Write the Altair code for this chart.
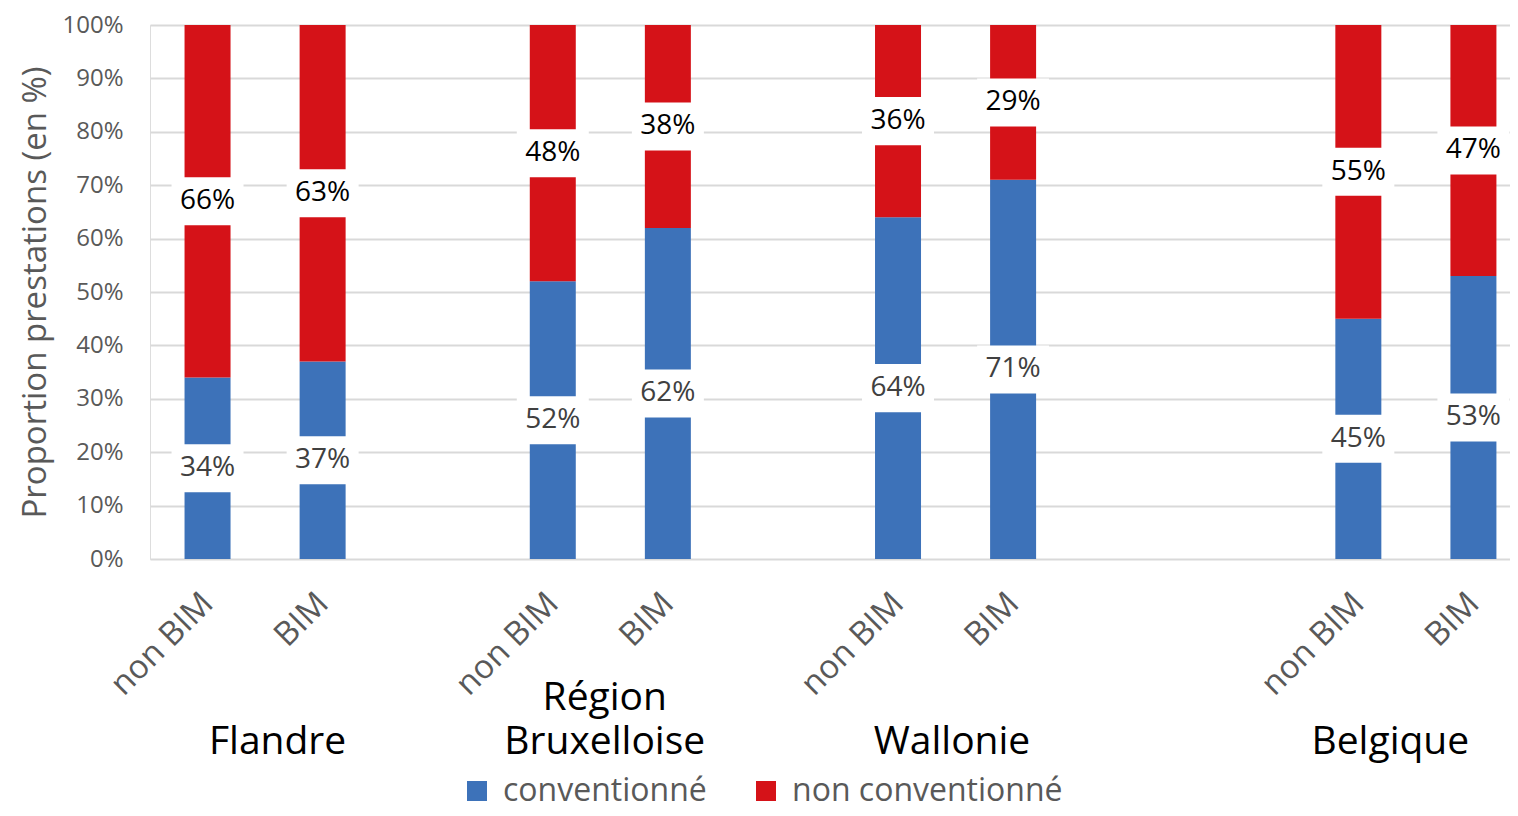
import altair as alt
import pandas as pd

# ---------------- data ----------------
regions = ["Flandre", "Région Bruxelloise", "Wallonie", "Belgique"]
region_titles = ["Flandre", "Région\nBruxelloise", "Wallonie", "Belgique"]
statuses = ["non BIM", "BIM"]
series = ["conventionné", "non conventionné"]
conventionne = [34, 37, 52, 62, 64, 71, 45, 53]
non_conventionne = [66, 63, 48, 38, 36, 29, 55, 47]
y_ticks = [0, 10, 20, 30, 40, 50, 60, 70, 80, 90, 100]

# category slots (empty slots separate the groups)
slot_order = [
    "Flandre|non BIM", "Flandre|BIM", "_gap1",
    "Région Bruxelloise|non BIM", "Région Bruxelloise|BIM", "_gap2",
    "Wallonie|non BIM", "Wallonie|BIM", "_gap3", "_gap4",
    "Belgique|non BIM", "Belgique|BIM",
]
slot_labels = [s.split("|")[1] if "|" in s else "" for s in slot_order]
real_slots = [i for i, s in enumerate(slot_order) if "|" in s]

rows = []
k = 0
for r in regions:
    for s in statuses:
        key = f"{r}|{s}"
        pos = slot_order.index(key)
        rows.append({"pos": pos, "serie": series[0], "ord": 0, "value": conventionne[k]})
        rows.append({"pos": pos, "serie": series[1], "ord": 1, "value": non_conventionne[k]})
        k += 1
df = pd.DataFrame(rows)

group_df = pd.DataFrame({
    "pos": [slot_order.index(f"{r}|non BIM") for r in regions],
    "label": region_titles,
})

# ---------------- style ----------------
FONT = "Open Sans"
BLUE = "#3D72B9"
RED = "#D51218"
GRAY = "#595959"
group_dx = {"Flandre": 70, "Région Bruxelloise": 52, "Wallonie": 54, "Belgique": 32}
GROUP_BASELINE = 729
GROUP_LINE_HEIGHT = 44
PLOT_W = 1360
SLOT_PX = 115.08   # the last slot runs past the right edge of the picture, as in the original

x_scale = alt.Scale(domain=[-0.5, -0.5 + PLOT_W / SLOT_PX], nice=False, zero=False, padding=0)
label_expr = "[" + ",".join(f"'{s}'" for s in slot_labels) + "][datum.value]"
x_axis = alt.Axis(
    title=None, values=real_slots, labelExpr=label_expr,
    labelAngle=315, labelAlign="right", labelBaseline="middle",
    labelFont=FONT, labelFontSize=33, labelColor=GRAY, labelPadding=39,
    ticks=False, domain=False, grid=False, labelOverlap=False,
)
y_scale = alt.Scale(domain=[0, 100], nice=False, padding=0)
y_axis = alt.Axis(
    values=y_ticks, labelExpr="datum.value + '%'",
    grid=True, gridColor="#D9D9D9", gridWidth=2,
    domain=False, ticks=False,
    labelFont=FONT, labelFontSize=24, labelColor=GRAY, labelPadding=27,
    title="Proportion prestations (en %)", titleFont=FONT, titleFontSize=33,
    titleColor=GRAY, titleFontWeight="normal",
    titleX=-115, titleY=267, titleAngle=270, titleAlign="center", titleBaseline="middle",
)

X = alt.X("pos:Q", scale=x_scale, axis=x_axis)

bars = alt.Chart(df).mark_bar(width=46, orient="vertical").encode(
    x=X,
    y=alt.Y("value:Q", stack="zero", scale=y_scale, axis=y_axis),
    color=alt.Color(
        "serie:N",
        scale=alt.Scale(domain=series, range=[BLUE, RED]),
        legend=alt.Legend(
            orient="none", legendX=311, legendY=750, direction="horizontal",
            title=None, symbolType="square", symbolSize=400, symbolStrokeWidth=0,
            symbolOpacity=1, labelFont=FONT, labelFontSize=32, labelColor=GRAY,
            labelOffset=10, columnPadding=43, labelLimit=600,
        ),
    ),
    order=alt.Order("ord:Q"),
)

stacked = alt.Chart(df).transform_stack(
    stack="value", groupby=["pos"], as_=["y0", "y1"], sort=[alt.SortField("ord")]
).transform_calculate(mid="(datum.y0 + datum.y1) / 2", txt="datum.value + '%'")

boxes = stacked.mark_point(
    shape="M-1,-0.667H1V0.667H-1Z", filled=True, color="white", opacity=1,
    size=5184, strokeWidth=0,
).encode(x=X, y=alt.Y("mid:Q", scale=y_scale, axis=y_axis))

labels = stacked.mark_text(font=FONT, fontSize=28, baseline="middle", align="center").encode(
    x=X,
    y=alt.Y("mid:Q", scale=y_scale, axis=y_axis),
    text="txt:N",
    color=alt.condition(alt.datum.serie == series[0], alt.value("#404040"), alt.value("#000000")),
)

group_layers = []
for r, t in zip(regions, region_titles):
    sub = group_df[group_df["label"] == t]
    n_lines = t.count("\n") + 1
    group_layers.append(
        alt.Chart(sub).mark_text(
            font=FONT, fontSize=39, color="#000000", baseline="alphabetic", align="center",
            lineBreak="\n", lineHeight=GROUP_LINE_HEIGHT, dx=group_dx[r],
        ).encode(
            x=X,
            y=alt.value(GROUP_BASELINE - GROUP_LINE_HEIGHT * (n_lines - 1)),
            text="label:N",
        )
    )

chart = alt.layer(bars, boxes, labels, *group_layers).properties(
    width=PLOT_W, height=534,
    autosize=alt.AutoSizeParams(type="none"),
    padding={"left": 142, "top": 17, "right": 0, "bottom": 245},
).configure_view(stroke=None).configure(font=FONT)

chart.save("out.html", embed_options={"renderer": "svg", "actions": False})
